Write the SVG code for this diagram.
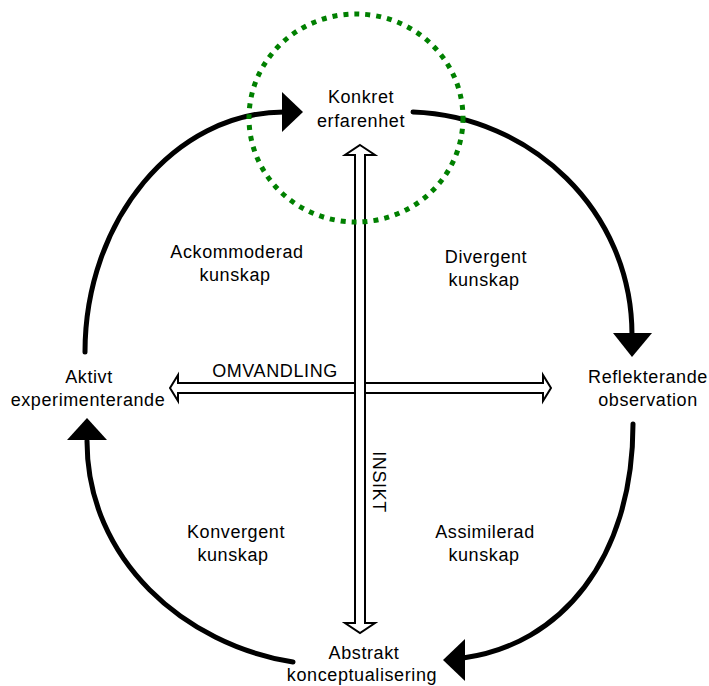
<svg xmlns="http://www.w3.org/2000/svg" width="709" height="686" viewBox="0 0 709 686">
<style>
  .lbl { font-family: "Liberation Sans", Arial, sans-serif; font-size: 18px; fill: #000; text-anchor: middle; letter-spacing: 0.6px; }
  .arc { fill: none; stroke: #000; stroke-width: 5; stroke-linecap: round; }
  .head { fill: #000; stroke: none; }
  .dbl { fill: #fff; stroke: #000; stroke-width: 2; stroke-linejoin: miter; }
</style>
<rect width="709" height="686" fill="#fff"/>
<g id="connectors">
  <path class="arc" d="M85,352 C85,220 175,112 284,112"/>
  <polygon class="head" points="282,92 303,112 282,132"/>
  <path class="arc" d="M413,112 C530,116 632,210 632,335"/>
  <polygon class="head" points="613,333 652,333 632,357"/>
  <path class="arc" d="M633,424 C633,560 560,645 463,658"/>
  <polygon class="head" points="465,639 465,681 443,660"/>
  <path class="arc" d="M293,662 C185,645 87,560 87,441"/>
  <polygon class="head" points="67,440 107,440 87,418"/>
  <polygon id="omvandling-arrow" class="dbl" points="170,388 178,375 178,383 543,383 543,375 551,388 543,401 543,393 178,393 178,401"/>
  <polygon id="insikt-arrow" class="dbl" points="360,145 375,155 365,155 365,623 375,623 360,633 345,623 355,623 355,155 345,155"/>
</g>
<g id="highlight">
  <ellipse cx="356" cy="118" rx="107" ry="104" fill="none" stroke="#008000" stroke-width="5" stroke-dasharray="5 6"/>
</g>
<g id="konkret"><text class="lbl" x="361" y="103">Konkret</text><text class="lbl" x="361" y="127">erfarenhet</text></g>
<g id="reflekterande"><text class="lbl" x="648" y="383">Reflekterande</text><text class="lbl" x="648" y="406">observation</text></g>
<g id="abstrakt"><text class="lbl" x="364" y="659">Abstrakt</text><text class="lbl" x="362" y="681">konceptualisering</text></g>
<g id="aktivt"><text class="lbl" x="89" y="383">Aktivt</text><text class="lbl" x="88" y="406">experimenterande</text></g>
<g id="ackommoderad"><text class="lbl" x="237" y="258">Ackommoderad</text><text class="lbl" x="235" y="281">kunskap</text></g>
<g id="divergent"><text class="lbl" x="486" y="263">Divergent</text><text class="lbl" x="484" y="286">kunskap</text></g>
<g id="konvergent"><text class="lbl" x="236" y="538">Konvergent</text><text class="lbl" x="233" y="561">kunskap</text></g>
<g id="assimilerad"><text class="lbl" x="485" y="538">Assimilerad</text><text class="lbl" x="484" y="561">kunskap</text></g>
<g id="omvandling"><text class="lbl" x="275" y="377">OMVANDLING</text></g>
<g id="insikt"><text class="lbl" transform="translate(373,482) rotate(90)" x="0" y="0">INSIKT</text></g>
</svg>
